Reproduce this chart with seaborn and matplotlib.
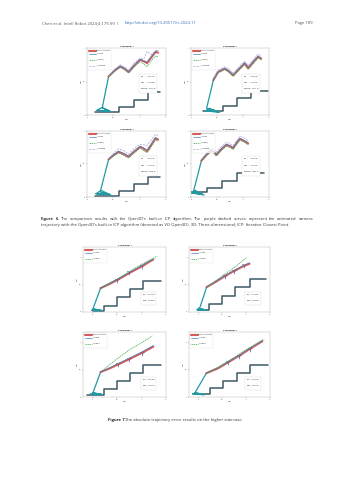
import numpy as np
import pandas as pd
import matplotlib
matplotlib.use("Agg")
import matplotlib.pyplot as plt
import seaborn as sns

# ---------------- Figure 6 data (X/m, Z/m read from the page) ----------------
F6_TITLES = ["Experiment 1", "Experiment 2", "Experiment 3", "Experiment 4"]

F6E1_STAIR_X = [0.16, 0.61, 0.61, 0.89, 0.89, 1.16, 1.16, 1.39]
F6E1_STAIR_Z = [0.05, 0.05, 0.12, 0.12, 0.225, 0.225, 0.34, 0.34]
F6E1_START_X = [0.19, 0.44, 0.28, 0.19, 0.44, 0.29, 0.41]
F6E1_START_Z = [0.07, 0.05, 0.11, 0.07, 0.06, 0.11, 0.575]
F6E1_X = [0.41, 0.52, 0.63, 0.71, 0.79, 0.90, 1.01, 1.08, 1.14, 1.22, 1.30, 1.35]
F6E1_MOCAP = [0.575, 0.66, 0.725, 0.69, 0.64, 0.74, 0.825, 0.80, 0.775, 0.86, 0.94, 0.93]
F6E1_VO = [0.58, 0.67, 0.73, 0.70, 0.65, 0.75, 0.83, 0.81, 0.79, 0.87, 0.95, 0.96]
F6E1_VIO = [0.575, 0.65, 0.71, 0.68, 0.63, 0.72, 0.80, 0.76, 0.72, 0.81, 0.88, 0.87]
F6E1_O3D = [0.58, 0.68, 0.75, 0.72, 0.67, 0.78, 0.85, 0.84, 0.95, 0.90, 0.96, 0.97]
F6E1_ERR = ["0.0315", "0.0238", "0.0566"]

F6E2_STAIR_X = [0.24, 0.62, 0.62, 0.885, 0.885, 1.16, 1.16, 1.48]
F6E2_STAIR_Z = [0.065, 0.065, 0.14, 0.14, 0.25, 0.25, 0.36, 0.36]
F6E2_START_X = [0.30, 0.55, 0.35, 0.28, 0.52, 0.30, 0.43]
F6E2_START_Z = [0.06, 0.04, 0.10, 0.06, 0.05, 0.10, 0.52]
F6E2_X = [0.43, 0.52, 0.65, 0.73, 0.81, 0.92, 1.03, 1.10, 1.20, 1.29, 1.35]
F6E2_MOCAP = [0.52, 0.64, 0.69, 0.65, 0.59, 0.68, 0.77, 0.70, 0.79, 0.87, 0.84]
F6E2_VO = [0.53, 0.65, 0.70, 0.66, 0.60, 0.69, 0.78, 0.72, 0.80, 0.88, 0.85]
F6E2_VIO = [0.52, 0.63, 0.68, 0.64, 0.58, 0.67, 0.75, 0.68, 0.77, 0.85, 0.82]
F6E2_O3D = [0.55, 0.67, 0.72, 0.69, 0.62, 0.72, 0.80, 0.74, 0.83, 0.91, 0.88]
F6E2_ERR = ["0.0220", "0.0207", "0.0471"]

F6E3_STAIR_X = [0.16, 0.61, 0.61, 0.89, 0.89, 1.16, 1.16, 1.39]
F6E3_STAIR_Z = [0.015, 0.015, 0.086, 0.086, 0.19, 0.19, 0.31, 0.31]
F6E3_START_X = [0.17, 0.45, 0.27, 0.17, 0.43, 0.25, 0.41]
F6E3_START_Z = [0.05, 0.03, 0.10, 0.05, 0.04, 0.076, 0.57]
F6E3_X = [0.41, 0.50, 0.60, 0.70, 0.79, 0.90, 1.01, 1.08, 1.14, 1.22, 1.30, 1.35]
F6E3_MOCAP = [0.57, 0.63, 0.685, 0.65, 0.61, 0.69, 0.76, 0.73, 0.695, 0.79, 0.89, 0.87]
F6E3_VO = [0.575, 0.64, 0.69, 0.66, 0.62, 0.70, 0.77, 0.74, 0.71, 0.80, 0.90, 0.88]
F6E3_VIO = [0.57, 0.62, 0.67, 0.63, 0.59, 0.67, 0.74, 0.70, 0.67, 0.76, 0.86, 0.85]
F6E3_O3D = [0.58, 0.66, 0.73, 0.70, 0.65, 0.74, 0.80, 0.79, 0.78, 0.86, 0.95, 0.93]
F6E3_ERR = ["0.0247", "0.0195", "0.0856"]

F6E4_STAIR_X = [0.0, 0.31, 0.31, 0.6, 0.6, 0.89, 0.89, 1.41]
F6E4_STAIR_Z = [0.07, 0.07, 0.14, 0.14, 0.25, 0.25, 0.36, 0.36]
F6E4_START_X = [0.0, 0.25, 0.08, 0.0, 0.22, 0.05, 0.20]
F6E4_START_Z = [0.07, 0.03, 0.10, 0.06, 0.04, 0.09, 0.55]
F6E4_X = [0.20, 0.30, 0.39, 0.44, 0.49, 0.58, 0.68, 0.75, 0.81, 0.88, 0.94, 1.02, 1.10]
F6E4_MOCAP = [0.55, 0.64, 0.71, 0.68, 0.64, 0.72, 0.79, 0.77, 0.74, 0.82, 0.88, 0.85, 0.81]
F6E4_VO = [0.56, 0.65, 0.72, 0.69, 0.65, 0.73, 0.80, 0.78, 0.75, 0.83, 0.89, 0.86, 0.82]
F6E4_VIO = [0.55, 0.63, 0.69, 0.66, 0.62, 0.70, 0.77, 0.75, 0.72, 0.80, 0.86, 0.83, 0.79]
F6E4_O3D = [0.57, 0.67, 0.75, 0.72, 0.68, 0.76, 0.83, 0.81, 0.78, 0.86, 0.92, 0.90, 0.85]
F6E4_ERR = ["0.0191", "0.0176", "0.0594"]

# ---------------- Figure 7 data ----------------
F7E1_STAIR_X = [0.0, 0.22, 0.22, 0.5, 0.5, 0.76, 0.76, 1.03, 1.03, 1.39]
F7E1_STAIR_Z = [0.02, 0.02, 0.11, 0.11, 0.27, 0.27, 0.42, 0.42, 0.575, 0.575]
F7E1_START_X = [-0.02, 0.20, 0.02, -0.02, 0.18, 0.0, 0.16]
F7E1_START_Z = [0.03, 0.02, 0.06, 0.03, 0.03, 0.05, 0.44]
F7E1_X = [0.16, 0.35, 0.52, 0.75, 1.0, 1.24]
F7E1_MOCAP = [0.44, 0.52, 0.60, 0.72, 0.84, 0.97]
F7E1_VO = [0.44, 0.53, 0.61, 0.73, 0.86, 0.98]
F7E1_VIO_X = [0.16, 0.35, 0.52, 0.75, 1.0, 1.32]
F7E1_VIO = [0.44, 0.54, 0.62, 0.75, 0.88, 1.03]
F7E1_CAM_X = [0.5, 0.75, 1.0]
F7E1_CAM_Z = [0.60, 0.73, 0.85]
F7E1_ERR = ["0.0163", "0.0182"]

F7E2_STAIR_X = [0.0, 0.22, 0.22, 0.5, 0.5, 0.76, 0.76, 1.07, 1.07, 1.41]
F7E2_STAIR_Z = [0.04, 0.04, 0.155, 0.155, 0.30, 0.30, 0.46, 0.46, 0.61, 0.61]
F7E2_START_X = [-0.03, 0.18, 0.0, -0.03, 0.15, 0.02, 0.17]
F7E2_START_Z = [0.04, 0.03, 0.07, 0.04, 0.04, 0.06, 0.46]
F7E2_X = [0.17, 0.35, 0.55, 0.75, 0.95, 1.07]
F7E2_MOCAP = [0.46, 0.55, 0.66, 0.76, 0.85, 0.89]
F7E2_VO = [0.46, 0.56, 0.67, 0.77, 0.86, 0.91]
F7E2_VIO_X = [0.17, 0.35, 0.55, 0.75, 0.93, 1.0]
F7E2_VIO = [0.46, 0.57, 0.70, 0.82, 0.95, 1.0]
F7E2_CAM_X = [0.55, 0.75, 0.95]
F7E2_CAM_Z = [0.66, 0.76, 0.86]
F7E2_ERR = ["0.0186", "0.0204"]

F7E3_STAIR_X = [-0.12, 0.22, 0.22, 0.5, 0.5, 0.76, 0.76, 1.03, 1.03, 1.39]
F7E3_STAIR_Z = [0.04, 0.04, 0.146, 0.146, 0.29, 0.29, 0.45, 0.45, 0.60, 0.60]
F7E3_START_X = [-0.05, 0.20, 0.02, -0.05, 0.18, 0.0, 0.16]
F7E3_START_Z = [0.05, 0.04, 0.08, 0.05, 0.05, 0.07, 0.46]
F7E3_X = [0.16, 0.35, 0.52, 0.75, 1.0, 1.24]
F7E3_MOCAP = [0.46, 0.53, 0.60, 0.70, 0.81, 0.93]
F7E3_VO = [0.46, 0.54, 0.62, 0.72, 0.83, 0.95]
F7E3_VIO_X = [0.16, 0.35, 0.52, 0.75, 1.0, 1.22]
F7E3_VIO = [0.46, 0.60, 0.72, 0.87, 1.00, 1.13]
F7E3_CAM_X = [0.52, 0.75, 1.0]
F7E3_CAM_Z = [0.61, 0.71, 0.82]
F7E3_ERR = ["0.0258", "0.0631"]

F7E4_STAIR_X = [-0.12, 0.235, 0.235, 0.52, 0.52, 0.81, 0.81, 1.09, 1.09, 1.45]
F7E4_STAIR_Z = [0.055, 0.055, 0.16, 0.16, 0.295, 0.295, 0.44, 0.44, 0.59, 0.59]
F7E4_START_X = [-0.12, 0.12, -0.05, -0.12, 0.10, -0.08, 0.165]
F7E4_START_Z = [0.06, 0.04, 0.08, 0.06, 0.05, 0.07, 0.44]
F7E4_X = [0.165, 0.41, 0.62, 0.85, 1.08, 1.34]
F7E4_MOCAP = [0.44, 0.53, 0.64, 0.76, 0.89, 1.03]
F7E4_VO = [0.44, 0.54, 0.65, 0.77, 0.90, 1.04]
F7E4_VIO_X = [0.165, 0.41, 0.62, 0.85, 1.08, 1.38]
F7E4_VIO = [0.44, 0.55, 0.66, 0.79, 0.92, 1.07]
F7E4_CAM_X = [0.62, 0.85, 1.08]
F7E4_CAM_Z = [0.64, 0.76, 0.89]
F7E4_ERR = ["0.0197", "0.0215"]

# ---------------- texts ----------------
HEADER_LEFT = "Chen et al. Intell Robot 2024;4:179-99  I  "
HEADER_LINK = "http://dx.doi.org/10.20517/ir.2024.11"
HEADER_PAGE = "Page 189"
CAP6_L1 = ("The comparison results with the Open3D's built-in ICP algorithm. "
           "The purple dashed curves represent the estimated camera")
CAP6_L2 = ("trajectory with the Open3D's built-in ICP algorithm (denoted as VO Open3D). "
           "3D: Three-dimensional; ICP: Iterative Closest Point.")
CAP7 = "The absolute trajectory error results on the higher staircase."

# ---------------- style ----------------
W, H = 353, 480
sns.set_theme(style="white")
plt.rcParams["font.family"] = ["Liberation Serif", "DejaVu Serif"]

C_MOCAP = "#cf3f3f"
C_VO = "#3f86c4"
C_VIO = "#3aa845"
C_O3D = "#a99ce0"
C_START = "#239aa3"
C_STAIR = "#3f5866"

fig = plt.figure(figsize=(W / 100, H / 100), dpi=100)


def box(x0, y0, x1, y1):
    return [x0 / W, 1 - y1 / H, (x1 - x0) / W, (y1 - y0) / H]


def line(ax, x, y, **kw):
    sns.lineplot(x=x, y=y, sort=False, estimator=None, ax=ax, **kw)


def style_axes(ax, title, xlim, ylim):
    ax.set_xlim(*xlim)
    ax.set_ylim(*ylim)
    ax.set_xticks([0, 0.5, 1, 1.5])
    ax.set_xticklabels(["0", "0.5", "1", "1.5"])
    ax.set_yticks([0, 0.5, 1])
    ax.set_yticklabels(["0", "0.5", "1"])
    ax.tick_params(labelsize=1.4, length=0.8, width=0.2, pad=0.6,
                   bottom=True, left=True, colors="#333333")
    for s in ax.spines.values():
        s.set_color("#b0b0b0")
        s.set_linewidth(0.3)
    ax.set_title(title, fontsize=1.7, fontweight="bold", pad=0.8)
    ax.set_xlabel("X/m", fontsize=1.5, labelpad=0.5)
    ax.set_ylabel("Z/m", fontsize=1.5, labelpad=0.5)


def add_legend(ax):
    leg = ax.legend(loc="upper left", fontsize=1.5, handlelength=3.2, frameon=True,
                    edgecolor="#cccccc", fancybox=False, borderpad=0.4,
                    labelspacing=0.25, handletextpad=0.4)
    leg.get_frame().set_linewidth(0.2)


def f6_panel(rect, title, sx, sz, stx, stz, x, mocap, vo, vio, o3d, err):
    ax = fig.add_axes(rect)
    line(ax, sx, sz, color=C_STAIR, lw=1.1, label="_nolegend_")
    line(ax, stx, stz, color=C_START, lw=0.9, label="_nolegend_")
    line(ax, x, mocap, color=C_MOCAP, lw=1.5, alpha=0.85, label="Motion Capture")
    line(ax, x, vo, color=C_VO, lw=0.5, label="VO$_{\\mathrm{Ours}}$")
    line(ax, x, vio, color=C_VIO, lw=0.5, linestyle=(0, (2, 1)), label="VIO$_{\\mathrm{Ours}}$")
    line(ax, x, o3d, color=C_O3D, lw=0.5, linestyle=(0, (3, 1.5)), label="VO$_{\\mathrm{Open3D}}$")
    style_axes(ax, title, (0, 1.5), (0, 1.0))
    add_legend(ax)
    txt = ("$E_{VO}$       = %s m\n$E_{VIO}$      = %s m\n$E_{Open3D}$ = %s m"
           % tuple(err))
    ax.text(1.0, 0.47, txt, fontsize=1.3, va="center", ha="left", linespacing=1.3,
            bbox=dict(boxstyle="square,pad=0.4", fc="white", ec="#cccccc", lw=0.2))
    return ax


def f7_panel(rect, title, sx, sz, stx, stz, x, mocap, vo, vio_x, vio, cx, cz, err):
    ax = fig.add_axes(rect)
    line(ax, sx, sz, color=C_STAIR, lw=1.1, label="_nolegend_")
    line(ax, stx, stz, color=C_START, lw=0.9, label="_nolegend_")
    line(ax, x, mocap, color=C_MOCAP, lw=1.5, alpha=0.85, label="Motion Capture")
    line(ax, x, vo, color=C_VO, lw=0.5, label="VO$_{\\mathrm{Ours}}$")
    line(ax, vio_x, vio, color=C_VIO, lw=0.5, linestyle=(0, (2, 1)), label="VIO$_{\\mathrm{Ours}}$")
    sns.scatterplot(x=cx, y=cz, marker="1", s=16, color="#3a5f9a", linewidth=0.5, ax=ax)
    style_axes(ax, title, (-0.2, 1.5), (0, 1.2))
    add_legend(ax)
    txt = "$E_{VO}$  = %s m\n$E_{VIO}$ = %s m" % tuple(err)
    ax.text(1.0, 0.25, txt, fontsize=1.3, va="center", ha="left", linespacing=1.3,
            bbox=dict(boxstyle="square,pad=0.4", fc="white", ec="#cccccc", lw=0.2))
    return ax


# Figure 6 panels
f6_panel(box(87, 48, 166, 115), F6_TITLES[0], F6E1_STAIR_X, F6E1_STAIR_Z, F6E1_START_X,
         F6E1_START_Z, F6E1_X, F6E1_MOCAP, F6E1_VO, F6E1_VIO, F6E1_O3D, F6E1_ERR)
f6_panel(box(191, 48, 269, 115), F6_TITLES[1], F6E2_STAIR_X, F6E2_STAIR_Z, F6E2_START_X,
         F6E2_START_Z, F6E2_X, F6E2_MOCAP, F6E2_VO, F6E2_VIO, F6E2_O3D, F6E2_ERR)
f6_panel(box(87, 131, 166, 197), F6_TITLES[2], F6E3_STAIR_X, F6E3_STAIR_Z, F6E3_START_X,
         F6E3_START_Z, F6E3_X, F6E3_MOCAP, F6E3_VO, F6E3_VIO, F6E3_O3D, F6E3_ERR)
f6_panel(box(191, 131, 269, 197), F6_TITLES[3], F6E4_STAIR_X, F6E4_STAIR_Z, F6E4_START_X,
         F6E4_START_Z, F6E4_X, F6E4_MOCAP, F6E4_VO, F6E4_VIO, F6E4_O3D, F6E4_ERR)

# Figure 7 panels
f7_panel(box(83, 247, 166, 312), F6_TITLES[0], F7E1_STAIR_X, F7E1_STAIR_Z, F7E1_START_X,
         F7E1_START_Z, F7E1_X, F7E1_MOCAP, F7E1_VO, F7E1_VIO_X, F7E1_VIO,
         F7E1_CAM_X, F7E1_CAM_Z, F7E1_ERR)
f7_panel(box(189, 247, 270, 312), F6_TITLES[1], F7E2_STAIR_X, F7E2_STAIR_Z, F7E2_START_X,
         F7E2_START_Z, F7E2_X, F7E2_MOCAP, F7E2_VO, F7E2_VIO_X, F7E2_VIO,
         F7E2_CAM_X, F7E2_CAM_Z, F7E2_ERR)
f7_panel(box(83, 332, 166, 397), F6_TITLES[2], F7E3_STAIR_X, F7E3_STAIR_Z, F7E3_START_X,
         F7E3_START_Z, F7E3_X, F7E3_MOCAP, F7E3_VO, F7E3_VIO_X, F7E3_VIO,
         F7E3_CAM_X, F7E3_CAM_Z, F7E3_ERR)
f7_panel(box(189, 332, 270, 397), F6_TITLES[3], F7E4_STAIR_X, F7E4_STAIR_Z, F7E4_START_X,
         F7E4_START_Z, F7E4_X, F7E4_MOCAP, F7E4_VO, F7E4_VIO_X, F7E4_VIO,
         F7E4_CAM_X, F7E4_CAM_Z, F7E4_ERR)

# page texts
sans = ["Open Sans", "DejaVu Sans"]
renderer = fig.canvas.get_renderer()


def justified(words, x0, x1, y, **kw):
    # spread the words of one caption line over x0..x1 (pixels), like the page
    items = []
    for i, w in enumerate(words):
        weight = "bold" if i < 2 and words[0] == "Figure" else "normal"
        items.append(fig.text(0, 1 - y / H, w, fontweight=weight, va="center", **kw))
    widths = [t.get_window_extent(renderer).width for t in items]
    gap = (x1 - x0 - sum(widths)) / (len(items) - 1)
    x = x0
    for t, wd in zip(items, widths):
        t.set_x(x / W)
        x += wd + gap


fig.text(42 / W, 1 - 23 / H, HEADER_LEFT, fontsize=3.0, color="#555555", family=sans, va="center")
fig.text(125 / W, 1 - 23 / H, HEADER_LINK, fontsize=3.0, color="#2f6db5", family=sans, va="center")
fig.text(313 / W, 1 - 23 / H, HEADER_PAGE, fontsize=3.0, color="#555555", family=sans,
         va="center", ha="right")

justified(("Figure 6. " + CAP6_L1).split(), 41, 313, 219, fontsize=3.0, color="#333333",
          family=sans)
fig.text(41 / W, 1 - 224.8 / H, CAP6_L2, fontsize=3.0, color="#333333", family=sans, va="center")

fig.text(108 / W, 1 - 420 / H, "Figure 7.", fontsize=3.0, fontweight="bold", color="#222222",
         family=sans, va="center")
fig.text(125 / W, 1 - 420 / H, CAP7, fontsize=3.0, color="#333333", family=sans, va="center")

fig.savefig("out.png", dpi=100, facecolor="white")
